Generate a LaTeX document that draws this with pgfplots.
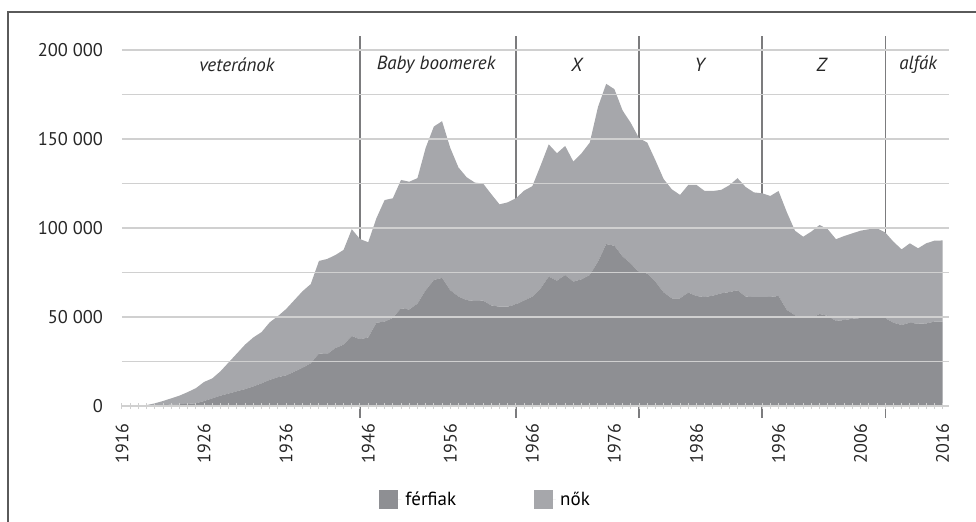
\documentclass[border=0pt]{standalone}
\usepackage{pgfplots}
\usepackage{pgfplotstable}
\pgfplotsset{compat=1.18}
\usepackage{fontspec}
\setmainfont{PT Sans}
\definecolor{men}{HTML}{8E8F93}
\definecolor{women}{HTML}{A6A7AB}
\definecolor{gridc}{HTML}{D0D0D0}
\definecolor{genline}{HTML}{7C7C7E}
\definecolor{framec}{HTML}{5A5A5A}

\pgfplotstableread{
year men women
1916 0 0
1917 0 0
1918 0 0
1919 0 500
1920 200 1300
1921 500 2300
1922 800 3500
1923 1000 4800
1924 1200 6600
1925 1500 8500
1926 2800 10700
1927 4300 11200
1928 5800 13700
1929 7000 17500
1930 8300 21200
1931 9500 25000
1932 11000 27500
1933 12700 28800
1934 14700 32300
1935 16200 34300
1936 17200 37300
1937 19300 40200
1938 21500 43000
1939 24000 44500
1940 29500 52000
1941 29200 53400
1942 32500 52300
1943 34500 53200
1944 39300 60000
1945 37500 56300
1946 38500 53500
1947 46800 58700
1948 47400 68300
1949 49500 67200
1950 54900 72100
1951 54200 71800
1952 57500 70500
1953 65000 80000
1954 70800 86200
1955 72000 88000
1956 65000 80000
1957 61500 72500
1958 59500 69000
1959 59000 66500
1960 59200 65800
1961 56500 62500
1962 55800 57500
1963 55800 58600
1964 57100 59600
1965 59300 61700
1966 61400 62100
1967 66000 69000
1968 72700 74300
1969 70400 71600
1970 73600 72500
1971 69900 67400
1972 71200 70800
1973 73600 74400
1974 81100 86900
1975 91000 90000
1976 90000 88000
1977 84000 82000
1978 80000 79000
1979 75000 75500
1980 74500 73500
1981 69900 68100
1982 63800 63700
1983 60500 61200
1984 60500 58100
1985 63700 60500
1986 61800 62400
1987 61200 59600
1988 62000 58800
1989 63300 58100
1990 64000 60000
1991 65000 63000
1992 61500 61500
1993 61100 58900
1994 61100 58400
1995 61300 56700
1996 61800 59000
1997 54000 55000
1998 51000 47500
1999 49300 45800
2000 49300 48700
2001 51700 50000
2002 50600 48700
2003 47800 45900
2004 48300 47200
2005 49000 48000
2006 49400 49100
2007 49600 49700
2008 49600 50200
2009 49300 48200
2010 46800 45500
2011 45500 42500
2012 46800 44600
2013 46200 42400
2014 46400 45000
2015 47400 45500
2016 47400 45600
}\data

\begin{document}
\begin{tikzpicture}[x=1pt,y=1pt]
\path[use as bounding box] (0,0) rectangle (488,260.5);
\draw[framec, line width=0.65pt] (4,-5) -- (4,254.5) -- (495,254.5);
\begin{axis}[
  at={(61pt,57.5pt)}, anchor=south west, scale only axis,
  width=413.5pt, height=178pt,
  xmin=1916, xmax=2016.77, ymin=0, ymax=200000,
  stack plots=y, clip=false, axis on top,
  axis lines*=left,
  x axis line style={draw=gridc, line width=0.6pt},
  y axis line style={draw=none},
  xtick={1916,1926,...,2016},
  xticklabels={1916,1926,1936,1946,1956,1966,1976,1986,1996,2006,2016},
  minor x tick num=9,
  tick align=center, major tick length=3pt, minor tick length=3pt,
  xtick style={draw=gridc, line width=0.5pt},
  scaled y ticks=false,
  ytick={0,50000,100000,150000,200000},
  yticklabels={0,50 000,100 000,150 000,200 000},
  minor y tick num=1, ymajorgrids, yminorgrids,
  ytick style={draw=none},
  major grid style={draw=gridc, line width=0.6pt},
  minor grid style={draw=gridc, line width=0.6pt},
  /pgf/number format/assume math mode=true,
  xticklabel style={rotate=90, anchor=east, font=\fontsize{9}{10}\selectfont, text=black!85},
  xticklabel shift=4pt,
  yticklabel style={font=\fontsize{9.2}{10}\selectfont, text=black!85},
  yticklabel shift=4.5pt,
  legend style={at={(0.441,-0.264)}, anchor=center, draw=none, fill=none,
    font=\fontsize{9.5}{10}\selectfont, legend columns=2,
    /tikz/every even column/.append style={column sep=37pt}},
  legend image code/.code={\fill[#1] (0pt,-4.75pt) rectangle (9.5pt,4.75pt); \path (0pt,0pt) -- (11pt,0pt);},
]
\addplot[fill=men, draw=none] table[x=year,y=men]{\data} \closedcycle;
\addplot[fill=women, draw=none] table[x=year,y=women]{\data} \closedcycle;
\legend{férfiak, nők}
\draw[genline, line width=0.7pt] (axis cs:1945,-6740) -- (axis cs:1945,207865);
\draw[genline, line width=0.7pt] (axis cs:1964,-6740) -- (axis cs:1964,207865);
\draw[genline, line width=0.7pt] (axis cs:1979,-6740) -- (axis cs:1979,207865);
\draw[genline, line width=0.7pt] (axis cs:1994,-6740) -- (axis cs:1994,207865);
\draw[genline, line width=0.7pt] (axis cs:2009,-6740) -- (axis cs:2009,207865);
\node[font=\itshape\fontsize{9.5}{10}\selectfont, text=black!85] at (axis cs:1930,191573) {veteránok};
\node[font=\itshape\fontsize{9.5}{10}\selectfont, text=black!85] at (axis cs:1954.27,191573) {Baby boomerek};
\node[font=\itshape\fontsize{9.5}{10}\selectfont, text=black!85] at (axis cs:1971.4,191573) {X};
\node[font=\itshape\fontsize{9.5}{10}\selectfont, text=black!85] at (axis cs:1986.4,191573) {Y};
\node[font=\itshape\fontsize{9.5}{10}\selectfont, text=black!85] at (axis cs:2001.25,191573) {Z};
\node[font=\itshape\fontsize{9.5}{10}\selectfont, text=black!85] at (axis cs:2013,191573) {alfák};
\end{axis}
\end{tikzpicture}
\end{document}
